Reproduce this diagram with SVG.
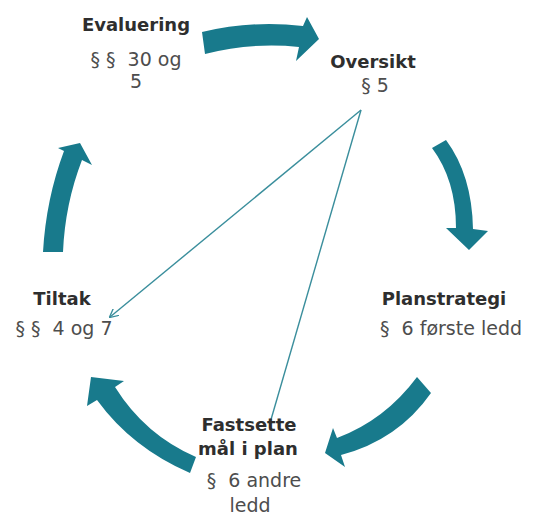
<svg xmlns="http://www.w3.org/2000/svg" width="538" height="519" viewBox="0 0 538 519">
<defs>
<style>
.b{font-family:"DejaVu Sans",sans-serif;font-weight:bold;font-size:18px;fill:#2e2e2e;text-anchor:middle}
.r{font-family:"DejaVu Sans",sans-serif;font-size:19px;fill:#4d4d4d;text-anchor:middle;white-space:pre}
.arr{fill:#187a8c}
.ln{stroke:#3a8e9c;stroke-width:1.4;fill:none}
</style>
<marker id="ah" viewBox="0 0 10 10" refX="9" refY="5" markerWidth="9" markerHeight="9" orient="auto" markerUnits="userSpaceOnUse">
<path d="M0,0 L10,5 L0,10" fill="none" stroke="#3a8e9c" stroke-width="1.5"/>
</marker>
</defs>
<rect width="538" height="519" fill="#fff"/>
<g id="connectors">
<path class="arr" d="M202,32 Q252,20 303,26 L307,17 L319,39 L296,61 L299,47 Q252,42 205,54 Z"/>
<path class="arr" d="M432,148 L446,140 Q472,175 473,229 L488,231 L469,250 L446,228 L456,228 Q456,180 432,148 Z"/>
<path class="arr" d="M417,377 L431,393 Q398,440 341,455 L345,467 L325,453 L333,428 L337,438 Q385,420 417,377 Z"/>
<path class="arr" d="M196,457 L190,473 Q132,448 97,400 L87,406 L91,377 L124,381 L115,387 Q145,435 196,457 Z"/>
<path class="arr" d="M43,252 L63,252 Q65,204 82,160 L92,165 L80,143 L58,148 L64,151 Q46,199 43,252 Z"/>
<line class="ln" x1="361" y1="110" x2="110" y2="317" marker-end="url(#ah)"/>
<line class="ln" x1="361" y1="110" x2="270" y2="423"/>
</g>
<g id="evaluering">
<text class="b" x="136" y="31">Evaluering</text>
<text class="r" x="136" y="66">§ §  30 og</text>
<text class="r" x="136" y="88">5</text>
</g>
<g id="oversikt">
<text class="b" x="373" y="68">Oversikt</text>
<text class="r" x="375" y="92">§ 5</text>
</g>
<g id="planstrategi">
<text class="b" x="444" y="305">Planstrategi</text>
<text class="r" x="451" y="335">§  6 første ledd</text>
</g>
<g id="fastsette">
<text class="b" x="249" y="431">Fastsette</text>
<text class="b" x="248" y="455">mål i plan</text>
<text class="r" x="254" y="487">§  6 andre</text>
<text class="r" x="250" y="512">ledd</text>
</g>
<g id="tiltak">
<text class="b" x="62" y="305">Tiltak</text>
<text class="r" x="64" y="335">§ §  4 og 7</text>
</g>
</svg>
